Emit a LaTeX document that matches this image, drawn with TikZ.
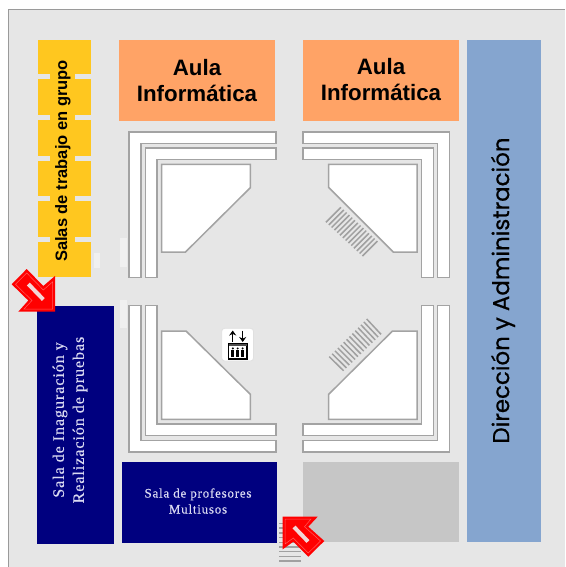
\documentclass[tikz,border=0pt]{standalone}
\usepackage{fontspec}
\usetikzlibrary{arrows.meta}
\setmainfont{Liberation Sans}
\newfontfamily\serifface[LetterSpace=6,FakeBold=0.35]{Liberation Serif}
\newfontfamily\geoface[FakeBold=0.6]{Poppins}
\definecolor{panelgrey}{HTML}{E6E6E6}
\definecolor{panelline}{HTML}{9A9A9A}
\definecolor{roomyellow}{HTML}{FFC71F}
\definecolor{roomorange}{HTML}{FFA366}
\definecolor{roomblue}{HTML}{85A5CF}
\definecolor{roomnavy}{HTML}{00007F}
\definecolor{roomgrey}{HTML}{C6C6C6}
\definecolor{wallline}{HTML}{A3A3A3}
\definecolor{stairgrey}{HTML}{A0A0A0}
\definecolor{navytext}{HTML}{DADAF2}
\definecolor{slotpink}{HTML}{F2D6D6}
\definecolor{insetred}{HTML}{FF5A5A}
\tikzset{
  room/.style={inner sep=0pt,outer sep=0pt},
  wall/.style={fill=white,draw=wallline,line width=1.5pt,line join=miter},
  stairline/.style={draw=stairgrey,line width=1.5pt},
  redarrow/.style={fill=red,draw=none},
  inset/.style={draw=insetred,line width=.5pt},
  slot/.style={draw=slotpink,line width=4pt},
  ghost/.style={fill=white,fill opacity=.4,draw=none}
}
\begin{document}
\begin{tikzpicture}[x=1pt,y=-1pt]
\useasboundingbox (0,0) rectangle (565,567);
\fill[white] (0,0) rectangle (565,567);
\fill[panelgrey] (8,10) rectangle (565,567);
\draw[panelline,line width=1pt] (8,567) -- (8,10) -- (565,10);
% faint marks
\fill[ghost] (94,253) rectangle (100,268);
\fill[ghost] (120,238) rectangle (127,267);
\fill[ghost] (120,300) rectangle (127,328);
% yellow block
\fill[roomyellow] (38,40) rectangle (91,277);
\foreach \g/\h in {74.5/79.5,115/120,155.5/160.7,196/201,236.5/241.7}{
  \fill[panelgrey] (38,\g) rectangle (50,\h);
  \fill[panelgrey] (75,\g) rectangle (91,\h);
}
\node[room,rotate=90,font=\bfseries\fontsize{16.5}{18}\selectfont] (salas) at (63,161) {Salas de trabajo en grupo};
% rooms
\fill[roomorange] (119,40) rectangle (275,121);
\node[room,align=center,font=\bfseries\fontsize{22.3}{26}\selectfont] (aula1) at (197,81) {Aula\\Informática};
\fill[roomorange] (303,40) rectangle (459,121);
\node[room,align=center,font=\bfseries\fontsize{22.3}{26}\selectfont] (aula2) at (381,79.5) {Aula\\Informática};
\fill[roomblue] (467,40) rectangle (541,542);
\node[room,rotate=90,font=\geoface\fontsize{22.9}{26}\selectfont] (dir) at (503,290.5) {Dirección y Administración};
\fill[roomnavy] (37,306) rectangle (114,544);
\node[room,rotate=90,align=center,text=navytext,font=\serifface\fontsize{16}{20}\selectfont] (inag) at (70,420) {Sala de Inaguración y\\Realización de pruebas};
\fill[roomnavy] (122,462) rectangle (277,543);
\node[room,align=center,text=navytext,font=\serifface\fontsize{13}{16}\selectfont] (prof) at (198,501) {Sala de profesores\\Multiusos};
\fill[roomgrey] (303,462) rectangle (459,542);
% top-left walls
\draw[wall] (129,132) -- (276,132) -- (276,143.5) -- (141,143.5) -- (141,277.5) -- (129,277.5) -- cycle;
\draw[wall] (145.3,148) -- (276,148) -- (276,159.5) -- (157,159.5) -- (157,277.5) -- (145.3,277.5) -- cycle;
\draw[wall] (161.7,164.3) -- (250.3,164.3) -- (250.3,187.7) -- (185.5,252) -- (161.7,252) -- cycle;
% top-right walls
\draw[wall] (449.3,132) -- (303,132) -- (303,143.5) -- (437.7,143.5) -- (437.7,277.5) -- (449.3,277.5) -- cycle;
\draw[wall] (433.7,148) -- (303,148) -- (303,159.5) -- (421.7,159.5) -- (421.7,277.5) -- (433.7,277.5) -- cycle;
\draw[wall] (417,164.3) -- (328.7,164.3) -- (328.7,187.5) -- (393.3,252) -- (417,252) -- cycle;
% bottom-left walls
\draw[wall] (129,452) -- (276,452) -- (276,440.3) -- (141,440.3) -- (141,305.7) -- (129,305.7) -- cycle;
\draw[wall] (145.3,435.3) -- (276,435.3) -- (276,424) -- (157,424) -- (157,305.7) -- (145.3,305.7) -- cycle;
\draw[wall] (161.7,419.3) -- (250.3,419.3) -- (250.3,394.3) -- (186,331) -- (161.7,331) -- cycle;
% bottom-right walls
\draw[wall] (449.3,452) -- (303,452) -- (303,440.3) -- (437.7,440.3) -- (437.7,305.7) -- (449.3,305.7) -- cycle;
\draw[wall] (433.7,435.3) -- (303,435.3) -- (303,424) -- (421.7,424) -- (421.7,305.7) -- (433.7,305.7) -- cycle;
\draw[wall] (417,419.3) -- (328.7,419.3) -- (328.7,394.3) -- (392.5,331) -- (417,331) -- cycle;
% stairs top-right
\foreach \i in {0,...,13}{
  \draw[stairline] ({326+\i*2.8},{222.3+\i*2.6}) -- ({341+\i*2.8},{207.3+\i*2.6});
}
% stairs bottom-right
\foreach \i in {0,...,13}{
  \draw[stairline] ({366.7-\i*2.88},{319+\i*2.9}) -- ({381-\i*2.88},{334.3+\i*2.8});
}
% stairs bottom
\foreach \i in {0,...,8}{
  \draw[stairline] (279.3,{523.5+\i*4.7}) -- (300.7,{523.5+\i*4.7});
}
% lift icon
\fill[white,draw=white!88!black,line width=.8pt,rounded corners=3pt] (221.7,328.3) rectangle (253.5,361);
\draw[black,line width=1.5pt,-{Stealth[length=5pt,width=7pt]}] (232.7,342) -- (232.7,330.5);
\draw[black,line width=1.5pt,-{Stealth[length=5pt,width=7pt]}] (242.7,330.5) -- (242.7,342);
\draw[black,line width=1.5pt] (228.5,344) rectangle (247,359);
\fill[black!70] (229,344) rectangle (246.5,345.5);
\foreach \p in {232.8,237.7,242.6}{
  \fill[black] (\p,348.4) circle (1.1pt);
  \fill[black] ({\p-1.4},349.8) rectangle ({\p+1.4},357);
}
% red arrows
\path[redarrow] (55,276) -- (55,311.7) -- (18.3,311.7) -- (28.3,300.5) -- (11.7,284.3) -- (26.7,269) -- (43.3,286) -- cycle;
\draw[inset] (52.5,282) -- (52.5,309) -- (24,309) -- (32,300.5) -- (15.5,284.3) -- (26.7,273) -- (43.3,290) -- cycle;
\draw[slot] (28.3,284) -- (43.3,299.5);
\path[redarrow] (317.7,516.7) -- (308.3,526.7) -- (324.3,541) -- (308.3,556.7) -- (293.3,541.7) -- (282.7,549.3) -- (282.7,516.7) -- cycle;
\draw[inset] (311,519) -- (304.5,526.7) -- (320.5,541) -- (308.3,553) -- (293.3,538) -- (285,544) -- (285,519) -- cycle;
\draw[slot] (294,527) -- (308,541.5);
\end{tikzpicture}
\end{document}
